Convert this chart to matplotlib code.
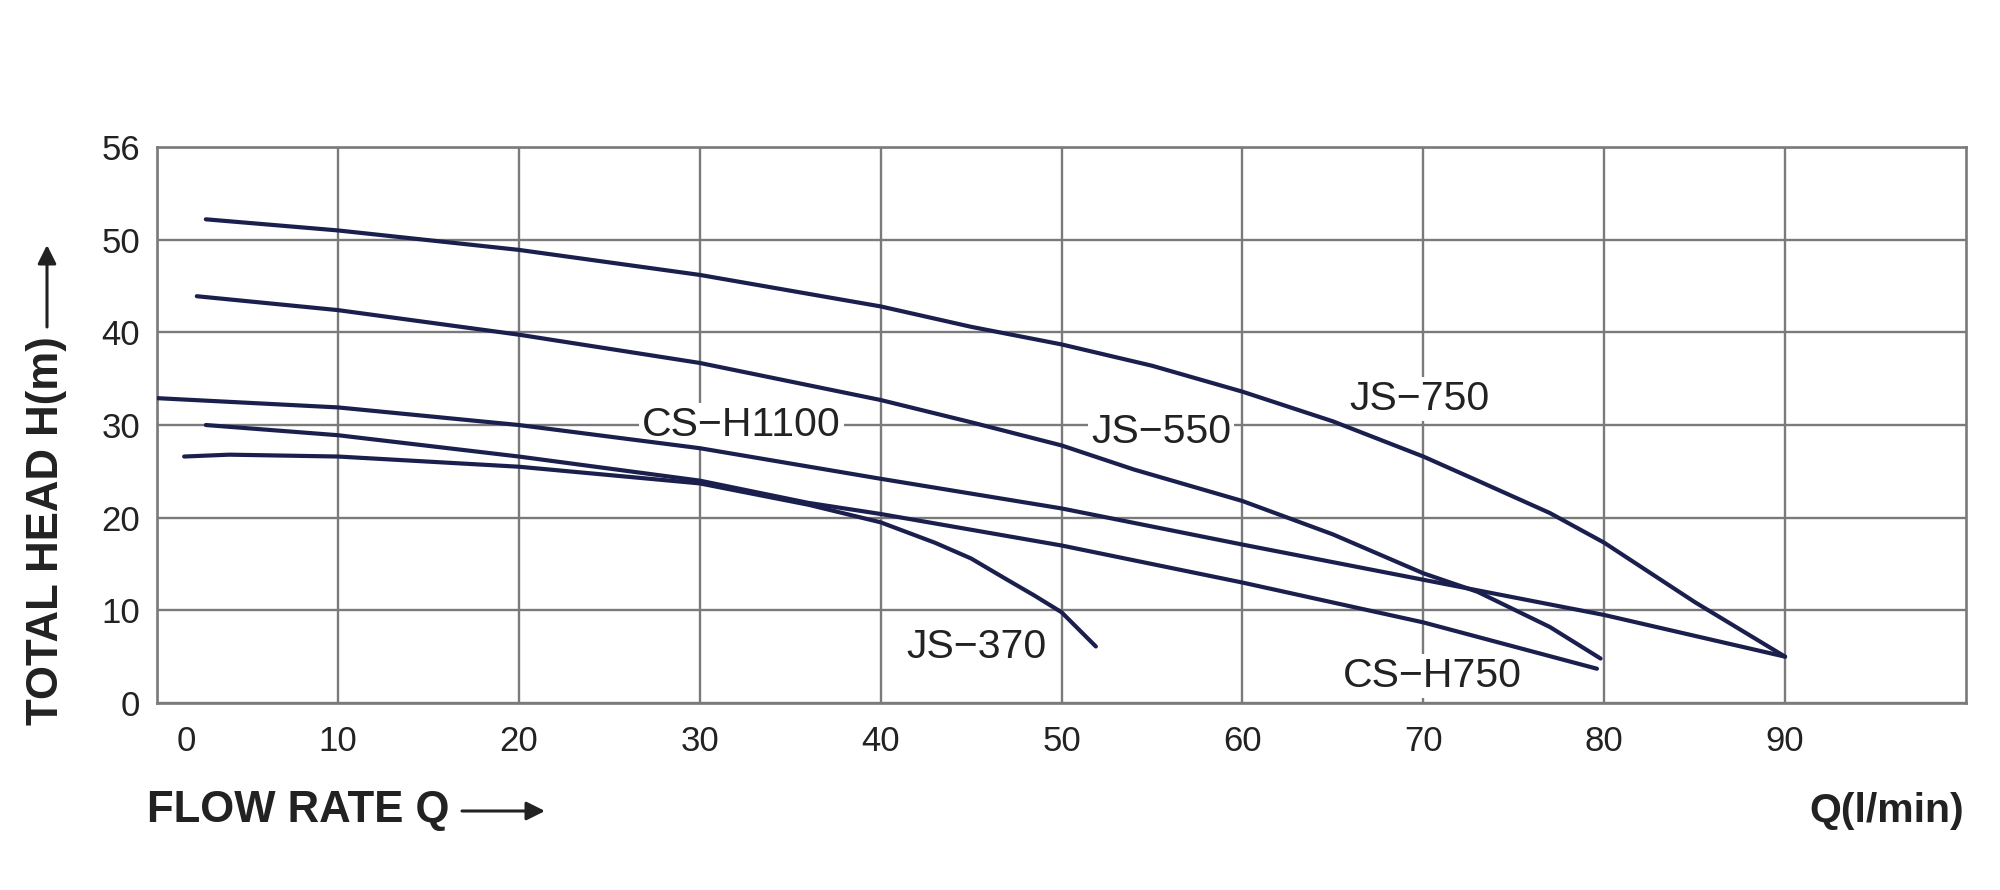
import matplotlib.pyplot as plt
from matplotlib.transforms import ScaledTranslation

plt.rcParams['font.family'] = ['Liberation Sans', 'DejaVu Sans']

# pump curves: flow Q (l/min) vs total head H (m)
js750_q = [2.7, 10, 20, 30, 40, 45, 50, 55, 60, 65, 70, 73, 77, 80, 85, 90]
js750_h = [52.2, 51.0, 48.9, 46.2, 42.8, 40.6, 38.7, 36.4, 33.6, 30.4, 26.6, 24.0, 20.5, 17.3, 10.9, 5.0]

js550_q = [2.2, 10, 20, 30, 40, 45, 50, 54, 60, 65, 70, 73, 77, 79.8]
js550_h = [43.9, 42.4, 39.75, 36.7, 32.7, 30.3, 27.8, 25.2, 21.8, 18.2, 14.0, 12.0, 8.2, 4.8]

csh1100_q = [0, 10, 20, 30, 40, 50, 60, 70, 80, 90]
csh1100_h = [32.9, 31.9, 30.0, 27.5, 24.2, 21.0, 17.1, 13.3, 9.5, 5.0]

csh750_q = [2.7, 10, 20, 30, 36, 40, 50, 60, 70, 79.6]
csh750_h = [30.0, 28.9, 26.6, 24.0, 21.6, 20.4, 17.0, 13.0, 8.7, 3.7]

js370_q = [1.5, 4, 10, 20, 30, 36, 40, 43, 45, 47, 48.5, 50, 51.9]
js370_h = [26.6, 26.8, 26.6, 25.5, 23.7, 21.4, 19.5, 17.3, 15.6, 13.3, 11.6, 9.8, 6.1]

x_ticks = [0, 10, 20, 30, 40, 50, 60, 70, 80, 90]
y_ticks = [0, 10, 20, 30, 40, 50, 60]
y_labels = ['0', '10', '20', '30', '40', '50', '56']

curve_color = '#1b1f4d'
grid_color = '#7a7a7a'

fig = plt.figure(figsize=(20, 8.9), dpi=100)
ax = fig.add_axes([0.0785, 0.2101, 0.983 - 0.0785, 0.8348 - 0.2101])

for q, h in [(js750_q, js750_h), (js550_q, js550_h), (csh1100_q, csh1100_h),
             (csh750_q, csh750_h), (js370_q, js370_h)]:
    ax.plot(q, h, color=curve_color, lw=3.0, solid_capstyle='round',
            solid_joinstyle='round', zorder=3)

ax.set_xlim(0, 100)
ax.set_ylim(0, 60)
ax.set_xticks(x_ticks)
ax.set_yticks(y_ticks)
ax.set_yticklabels(y_labels)
ax.grid(True, color=grid_color, lw=1.7)
ax.tick_params(length=0, labelsize=25, colors='#222222')
ax.tick_params(axis='x', pad=16)
ax.tick_params(axis='y', pad=12)
for s in ax.spines.values():
    s.set_color(grid_color)
    s.set_linewidth(1.9)

# the "0" under the x axis sits a little to the right of the corner
lbl0 = ax.get_xticklabels()[0]
lbl0.set_transform(lbl0.get_transform() + ScaledTranslation(0.29, 0, fig.dpi_scale_trans))

# curve names
box = dict(facecolor='white', edgecolor='none', pad=2)
ax.text(32.3, 30.0, 'CS\u2212H1100', fontsize=29.5, ha='center', va='center', color='#222222', bbox=box, zorder=2)
ax.text(55.5, 29.3, 'JS\u2212550', fontsize=29.5, ha='center', va='center', color='#222222', bbox=box, zorder=2)
ax.text(69.8, 32.8, 'JS\u2212750', fontsize=29.5, ha='center', va='center', color='#222222', bbox=box, zorder=2)
ax.text(45.3, 6.0, 'JS\u2212370', fontsize=29.5, ha='center', va='center', color='#222222', bbox=box, zorder=2)
ax.text(70.5, 2.9, 'CS\u2212H750', fontsize=29.5, ha='center', va='center', color='#222222', bbox=box, zorder=2)

# axis titles with arrows
fig.text(0.0235, 0.404, 'TOTAL HEAD H(m)', rotation=90, fontsize=31.5, fontweight='bold',
         ha='center', va='center', color='#222222')
fig.text(0.0735, 0.0888, 'FLOW RATE Q', fontsize=31.5, fontweight='bold',
         ha='left', va='center', color='#222222')
fig.text(0.982, 0.0888, 'Q(l/min)', fontsize=29.5, fontweight='bold',
         ha='right', va='center', color='#222222')
arrow = dict(arrowstyle='-|>', lw=2.2, color='#222222', mutation_scale=28, shrinkA=0, shrinkB=0)
ax.annotate('', xy=(47 / 2000, 1 - 245 / 890), xytext=(47 / 2000, 1 - 327 / 890),
            xycoords='figure fraction', textcoords='figure fraction', arrowprops=arrow)
ax.annotate('', xy=(545 / 2000, 1 - 811 / 890), xytext=(462 / 2000, 1 - 811 / 890),
            xycoords='figure fraction', textcoords='figure fraction', arrowprops=arrow)

fig.savefig('out.png', dpi=100, facecolor='white')
